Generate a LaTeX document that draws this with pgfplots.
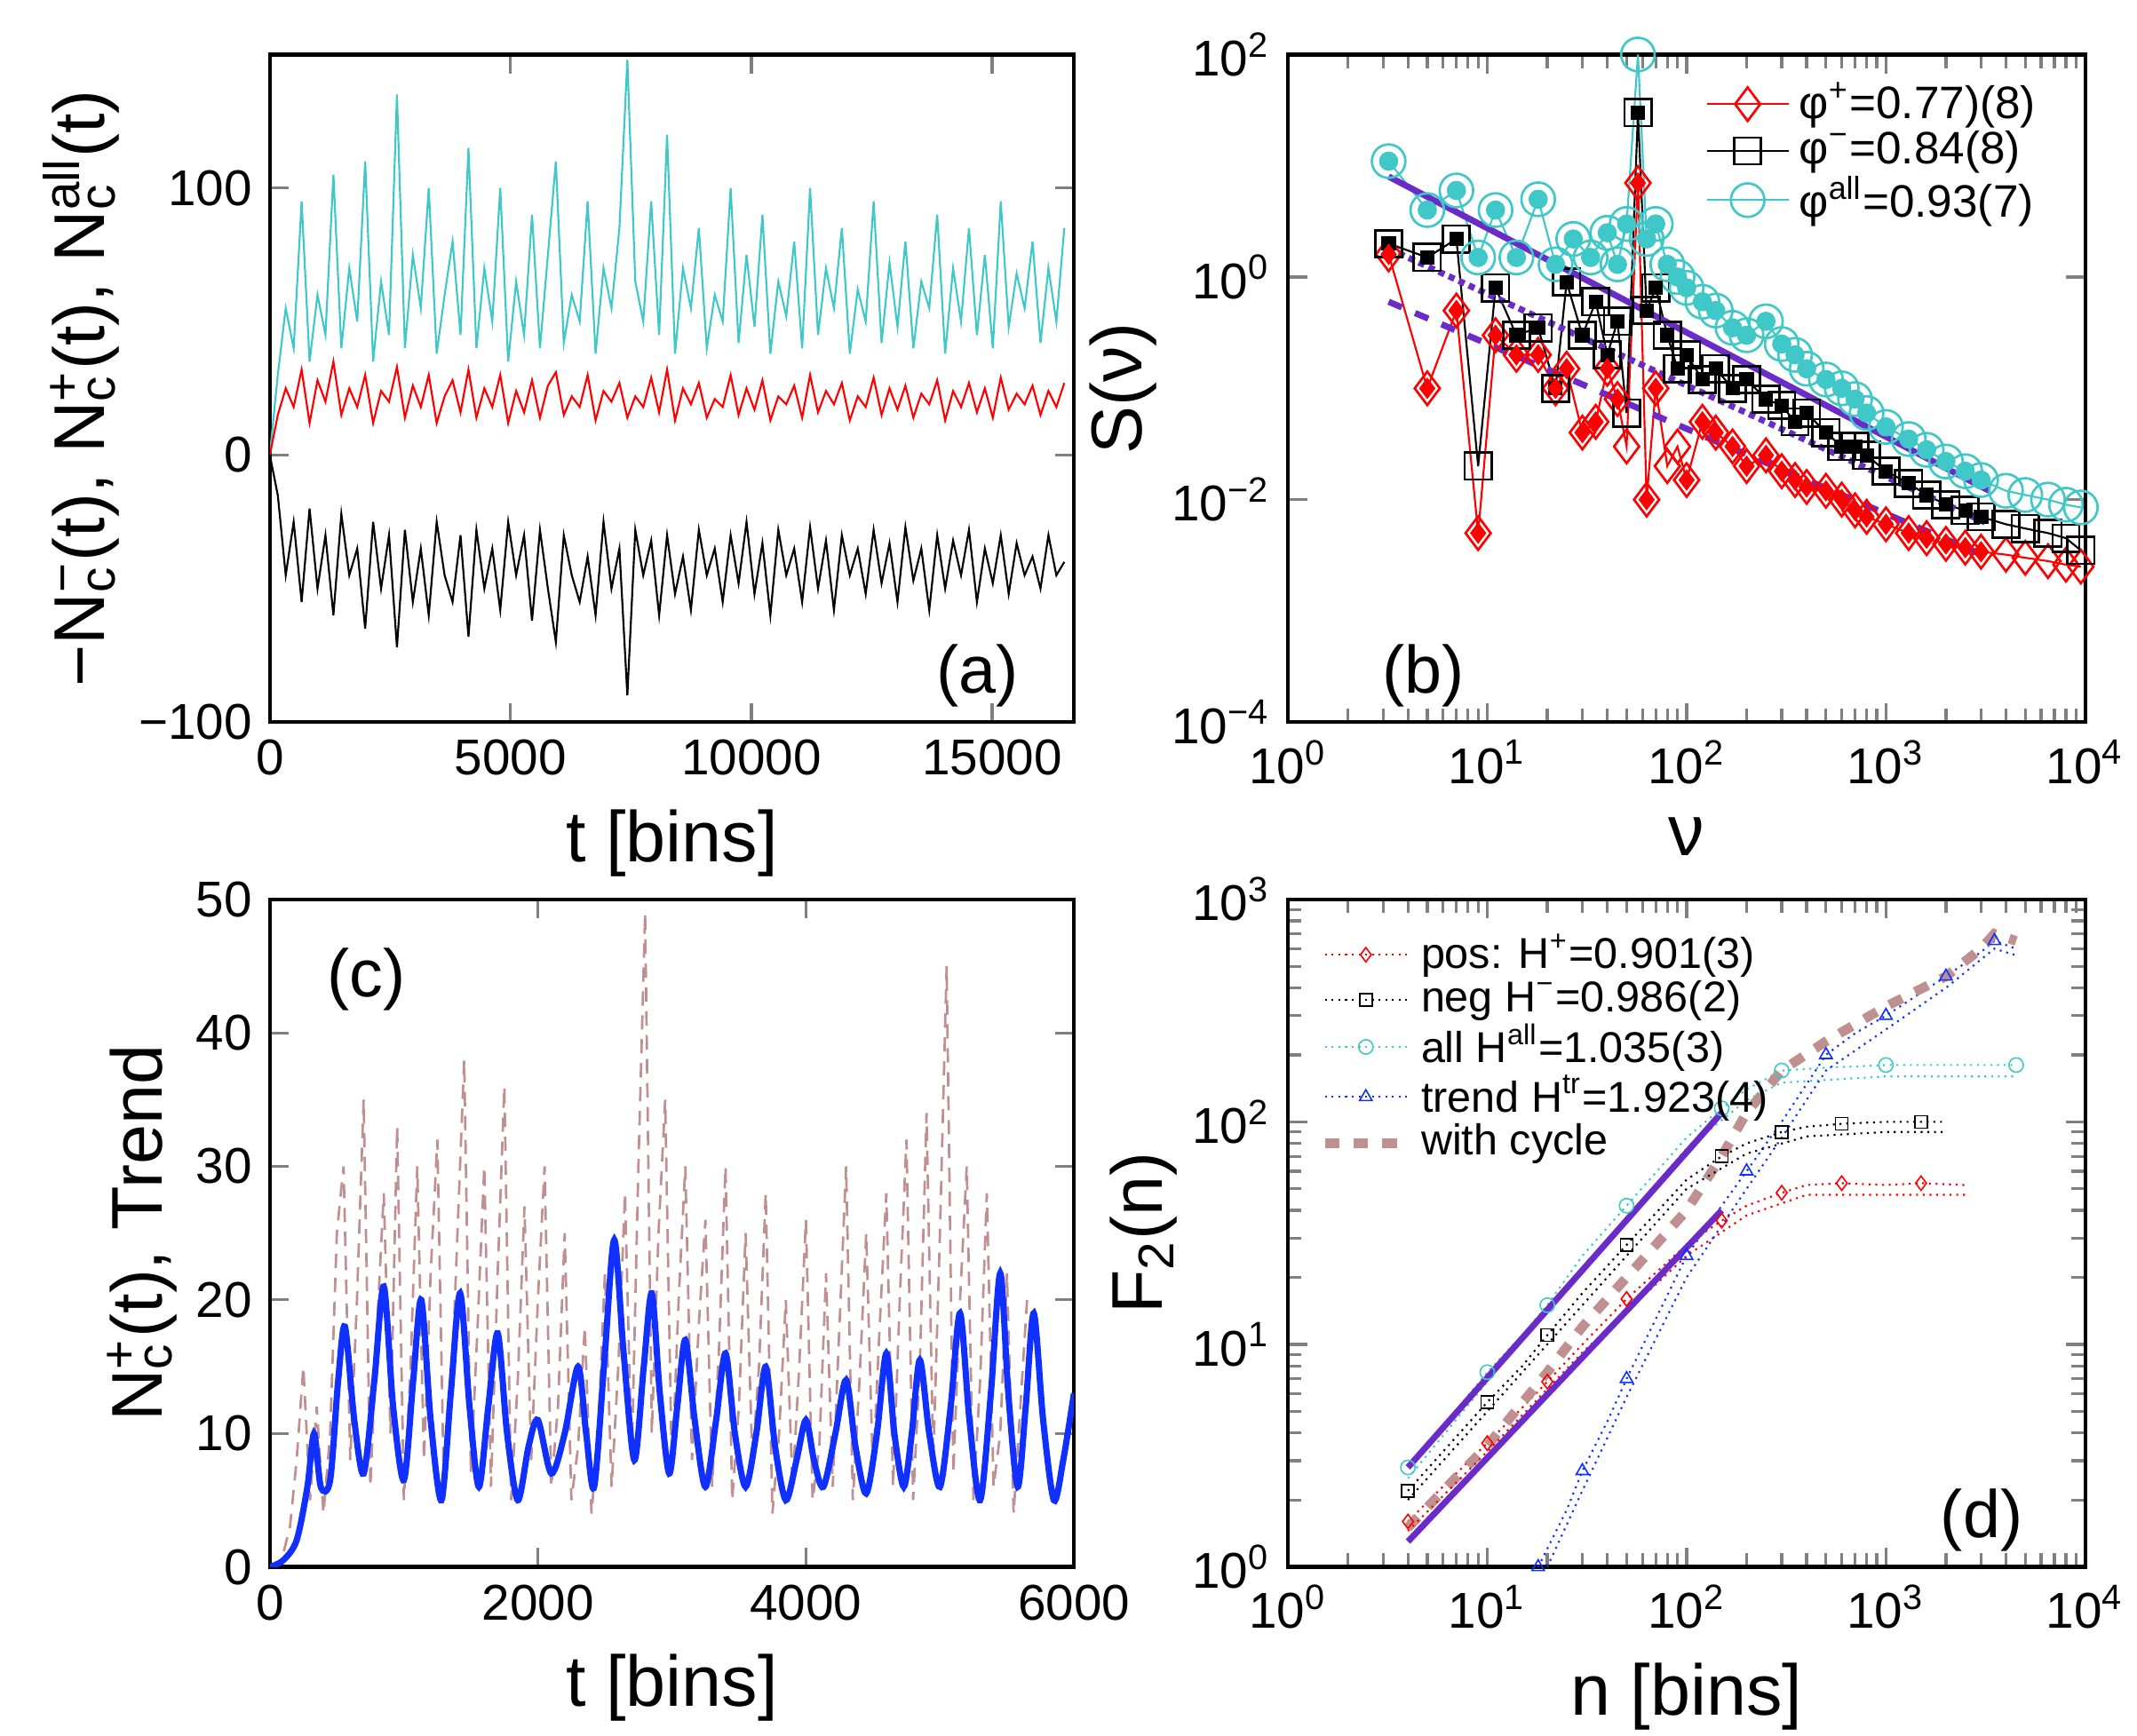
\documentclass[border=0pt]{standalone}
\usepackage{pgfplots}
\pgfplotsset{compat=1.18}
\usepackage{fontspec}
\setmainfont{Liberation Sans}
\definecolor{cy}{HTML}{40C8C8}
\definecolor{br}{HTML}{C09090}
\definecolor{pu}{HTML}{6A2BC9}
\definecolor{bl}{HTML}{1030FF}
\newcommand\expo[1]{\pgfmathparse{int(round(#1/ln(10)))}\ifnum\pgfmathresult<0 10\textsuperscript{−\the\numexpr-\pgfmathresult\relax}\else 10\textsuperscript{\pgfmathresult}\fi}
\pgfplotsset{
 every axis/.append style={scale only axis, /pgf/number format/assume math mode=true,
   tick label style={font=\fontsize{10.5}{12}\selectfont}, label style={font=\fontsize{15}{17}\selectfont},
   line width=0.8pt, tick style={line width=0.6pt}, major tick length=4pt},
 logt/.style={xticklabel={\expo{\tick}}, yticklabel={\expo{\tick}}}
}
\begin{document}
\begin{tikzpicture}
\useasboundingbox (0,0) rectangle (15.68,-12.74);
% (a)
\begin{axis}[anchor=south west, at={(1.98cm,-5.30cm)}, width=5.9cm, height=4.9cm,
 xmin=0, xmax=16700, ymin=-100, ymax=150, xtick={0,5000,10000,15000}, ytick={-100,0,100}, yticklabels={−100,0,100},
 scaled x ticks=false, xticklabel style={/pgf/number format/1000 sep={}},
 xlabel={t [bins]}, ylabel={−N\rlap{\textsubscript{c}}\textsuperscript{−}(t), N\rlap{\textsubscript{c}}\textsuperscript{+}(t), N\rlap{\textsubscript{c}}\textsuperscript{all}(t)}, ylabel style={yshift=-3pt}]
\addplot[cy, line width=0.4pt] table[x expr=\coordindex*165, y index=0]{
y
0
30
55
40
95
35
60
45
105
40
70
50
110
35
65
45
135
40
75
55
100
38
60
80
45
115
40
70
50
100
35
65
45
90
40
75
110
42
60
50
95
38
70
55
85
148
65
50
95
45
120
38
70
55
85
40
60
50
100
42
75
48
90
38
65
52
80
40
100
45
70
55
85
38
62
50
95
42
72
48
80
40
65
55
90
38
70
50
85
45
75
40
95
48
68
55
80
42
70
50
85
};
\addplot[red, line width=0.4pt] table[x expr=\coordindex*165, y index=0]{
y
0
15
25
18
32
12
28
20
35
15
25
18
30
12
24
20
33
14
26
18
30
12
22
28
16
32
14
25
18
30
12
24
16
28
14
26
31
15
22
18
30
13
24
20
27
14
22
18
29
16
32
13
25
19
27
14
21
18
30
15
25
17
28
13
22
19
26
14
30
16
24
19
27
13
22
18
29
15
25
17
26
14
23
19
28
13
24
18
27
16
25
14
29
17
23
19
26
15
24
18
27
};
\addplot[black, line width=0.4pt] table[x expr=\coordindex*165, y index=0]{
y
0
-15
-45
-25
-55
-20
-50
-30
-60
-22
-45
-35
-65
-25
-50
-30
-72
-28
-55
-35
-60
-25
-45
-55
-30
-68
-28
-50
-35
-58
-25
-45
-30
-62
-28
-50
-70
-30
-45
-55
-38
-60
-25
-50
-35
-90
-28
-45
-32
-60
-30
-52
-38
-58
-28
-45
-35
-55
-30
-48
-25
-52
-33
-60
-28
-45
-35
-55
-27
-50
-32
-58
-30
-45
-35
-52
-28
-48
-33
-55
-27
-47
-35
-58
-30
-50
-32
-45
-28
-55
-35
-48
-30
-52
-33
-45
-38
-50
-30
-45
-40
};
\node[font=\fontsize{14}{16}\selectfont] at (rel axis cs:0.88,0.07) {(a)};
\end{axis}
% (b)
\begin{axis}[anchor=south west, at={(9.45cm,-5.30cm)}, width=5.85cm, height=4.9cm,
 xmode=log, ymode=log, xmin=1, xmax=1e4, ymin=1e-4, ymax=1e2, logt,
 ytick={1e-4,1e-2,1,1e2}, xtick={1,10,100,1000,10000}, minor tick num=0,
 xlabel={ν}, ylabel={S(ν)}, ylabel style={yshift=-4pt},
 legend style={draw=none, fill=none, at={(0.97,0.99)}, anchor=north east, font=\fontsize{9.5}{11}\selectfont, row sep=-3pt},
 legend cell align=left]
\addplot[red, line width=0.4pt, mark=diamond, mark size=3.5pt, mark options={line width=0.5pt}] coordinates {(3.2,1.6)(5,0.1)(7,0.5)(9,0.005)(11,0.3)(14,0.2)(18,0.2)(22,0.1)(25,0.15)(30,0.04)(35,0.05)(40,0.15)(45,0.08)(50,0.03)(57,7)(63,0.01)(70,0.1)(80,0.02)(90,0.03)(100,0.015)(120,0.05)(140,0.04)(170,0.03)(200,0.02)(250,0.025)(300,0.018)(350,0.015)(400,0.013)(500,0.012)(600,0.01)(700,0.008)(800,0.007)(1000,0.006)(1300,0.005)(1600,0.0045)(2000,0.004)(2500,0.0037)(3000,0.0034)(4000,0.0032)(5000,0.003)(6500,0.0028)(8000,0.0026)(9500,0.0025)};
\addlegendentry{φ\textsuperscript{+}=0.77)(8)}
\addplot[black, line width=0.4pt, mark=square, mark size=2.8pt, mark options={line width=0.5pt}] coordinates {(3.2,2)(5,1.5)(7,2.2)(9,0.02)(11,0.8)(14,0.3)(18,0.35)(22,0.1)(25,0.9)(30,0.3)(35,0.6)(40,0.2)(45,0.4)(50,0.06)(57,30)(63,0.5)(70,0.8)(80,0.3)(90,0.15)(100,0.2)(120,0.12)(140,0.15)(170,0.1)(200,0.12)(250,0.08)(300,0.07)(350,0.05)(400,0.06)(500,0.04)(600,0.03)(700,0.03)(800,0.025)(1000,0.018)(1300,0.014)(1600,0.011)(2000,0.009)(2500,0.008)(3000,0.007)(4000,0.006)(5000,0.0055)(6500,0.005)(8000,0.0045)(9500,0.0035)};
\addlegendentry{φ\textsuperscript{−}=0.84(8)}
\addplot[cy, line width=0.4pt, mark=o, mark size=3.5pt, mark options={line width=0.5pt}] coordinates {(3.2,11)(5,4)(7,6)(9,1.5)(11,4)(14,1.5)(18,5)(22,1.3)(27,2.2)(33,1.5)(40,2.5)(45,1.3)(50,3)(57,100)(63,2.2)(70,3)(80,1.3)(90,1.0)(100,0.8)(120,0.6)(140,0.5)(170,0.35)(200,0.3)(250,0.4)(300,0.25)(350,0.2)(400,0.15)(500,0.12)(600,0.1)(700,0.08)(800,0.06)(1000,0.045)(1300,0.035)(1600,0.028)(2000,0.022)(2500,0.018)(3000,0.015)(4000,0.012)(5000,0.011)(6500,0.01)(8000,0.009)(9500,0.0085)};
\addlegendentry{φ\textsuperscript{all}=0.93(7)}
\addplot[only marks, cy, mark=*, mark size=1.6pt] coordinates {(3.2,11)(5,4)(7,6)(9,1.5)(11,4)(14,1.5)(18,5)(22,1.3)(27,2.2)(33,1.5)(40,2.5)(45,1.3)(50,3)(63,2.2)(70,3)(80,1.3)(90,1.0)(100,0.8)(120,0.6)(140,0.5)(170,0.35)(200,0.3)(250,0.4)(300,0.25)(350,0.2)(400,0.15)(500,0.12)(600,0.1)(700,0.08)(800,0.06)(1000,0.045)(1300,0.035)(1600,0.028)(2000,0.022)(2500,0.018)(3000,0.015)};
\addplot[only marks, black, mark=square*, mark size=1.1pt] coordinates {(3.2,2)(5,1.5)(7,2.2)(11,0.8)(14,0.3)(18,0.35)(22,0.1)(25,0.9)(30,0.3)(35,0.6)(40,0.2)(45,0.4)(57,30)(63,0.5)(70,0.8)(80,0.3)(90,0.15)(100,0.2)(120,0.12)(140,0.15)(170,0.1)(200,0.12)(250,0.08)(300,0.07)(350,0.05)(400,0.06)(500,0.04)(600,0.03)(700,0.03)(800,0.025)(1000,0.018)(1300,0.014)(1600,0.011)(2000,0.009)(2500,0.008)(3000,0.007)};
\addplot[only marks, red, mark=diamond*, mark size=1.6pt] coordinates {(3.2,1.6)(5,0.1)(7,0.5)(9,0.005)(11,0.3)(14,0.2)(18,0.2)(22,0.1)(25,0.15)(30,0.04)(35,0.05)(40,0.15)(45,0.08)(57,7)(63,0.01)(70,0.1)(100,0.015)(120,0.05)(140,0.04)(170,0.03)(200,0.02)(250,0.025)(300,0.018)(350,0.015)(400,0.013)(500,0.012)(600,0.01)(700,0.008)(800,0.007)(1000,0.006)(1300,0.005)(1600,0.0045)(2000,0.004)(2500,0.0037)(3000,0.0034)};
\addplot[pu, line width=1.3pt] coordinates {(3.2,8)(3300,0.012)};
\addplot[pu, line width=1.3pt, densely dotted] coordinates {(3.2,1.8)(3300,0.006)};
\addplot[pu, line width=1.3pt, dashed] coordinates {(3.2,0.6)(3300,0.003)};
\node[font=\fontsize{14}{16}\selectfont] at (rel axis cs:0.17,0.07) {(b)};
\end{axis}
% (c)
\begin{axis}[anchor=south west, at={(1.98cm,-11.50cm)}, width=5.9cm, height=4.9cm,
 xmin=0, xmax=6000, ymin=0, ymax=50, xtick={0,2000,4000,6000}, ytick={0,10,20,30,40,50},
 scaled x ticks=false, xticklabel style={/pgf/number format/1000 sep={}},
 xlabel={t [bins]}, ylabel={N\rlap{\textsubscript{c}}\textsuperscript{+}(t), Trend}, ylabel style={yshift=-3pt}]
\addplot[br, line width=0.5pt, densely dashed] table[x expr=\coordindex*50, y index=0]{
y
0
0
1
3
8
15
5
12
4
10
25
30
8
20
35
6
18
28
10
33
5
15
30
8
22
32
5
12
25
38
7
18
30
6
22
36
5
14
27
8
20
30
6
12
25
5
9
18
4
10
22
6
15
28
8
30
49
10
25
35
7
20
30
8
18
26
6
16
30
5
12
25
8
15
28
4
10
20
6
15
26
5
9
22
6
18
30
5
14
25
7
18
28
6
20
32
5
15
34
8
25
45
7
20
30
5
14
28
6
10
22
4
12
20
};
\addplot[bl, line width=1.3pt, smooth] coordinates {(0,0)(100,0.5)(200,2)(280,6)(330,10)(380,6)(450,6.5)(510,14)(560,18)(630,11)(700,7)(780,14)(850,21)(920,12)(1000,6.5)(1070,14)(1130,20)(1200,11)(1280,5)(1350,13)(1420,20.5)(1490,12)(1560,6)(1630,12)(1700,17.5)(1770,10)(1850,5)(1930,9)(2000,11)(2100,7)(2200,10)(2300,15)(2360,10)(2420,6)(2500,16)(2570,24.5)(2640,16)(2720,8)(2790,15)(2850,20.5)(2910,13)(2980,7)(3040,12)(3100,17)(3170,11)(3250,6)(3330,11)(3400,16)(3470,10)(3550,6)(3630,10)(3700,15)(3770,9)(3850,5)(3930,8)(4000,11)(4060,8)(4130,6)(4220,10)(4300,14)(4370,9)(4450,5.5)(4530,10)(4600,16)(4660,10)(4730,6)(4790,10)(4850,15.5)(4920,10)(5000,6)(5080,12)(5150,19)(5220,11)(5300,5)(5380,13)(5450,22)(5510,13)(5580,6)(5640,12)(5700,19)(5770,11)(5850,5)(5920,8)(6000,13)};
\node[font=\fontsize{14}{16}\selectfont] at (rel axis cs:0.12,0.88) {(c)};
\end{axis}
% (d)
\begin{axis}[anchor=south west, at={(9.45cm,-11.50cm)}, width=5.85cm, height=4.9cm,
 xmode=log, ymode=log, xmin=1, xmax=1e4, ymin=1, ymax=1e3, logt, minor tick num=0,
 xtick={1,10,100,1000,10000}, ytick={1,10,100,1000},
 xlabel={n [bins]}, ylabel={F\textsubscript{2}(n)}, ylabel style={yshift=-4pt},
 legend style={draw=none, fill=none, at={(0.02,0.98)}, anchor=north west, font=\fontsize{9}{10}\selectfont, row sep=-3pt},
 legend cell align=left]
\addplot[red, line width=0.4pt, densely dotted, mark=diamond, mark size=1.5pt, mark repeat=2, mark options={solid,line width=0.3pt}] coordinates {(4,1.6)(6,2.3)(10,3.6)(15,5.2)(20,6.8)(30,10)(50,16)(100,28)(150,36)(200,42)(300,48)(400,52)(600,53)(1000,52)(1500,53)(2500,52)};
\addlegendentry{pos: H\textsuperscript{+}=0.901(3)}
\addplot[black, line width=0.4pt, densely dotted, mark=square, mark size=1.3pt, mark repeat=2, mark options={solid,line width=0.3pt}] coordinates {(4,2.2)(6,3.3)(10,5.5)(15,8)(20,11)(30,17)(50,28)(100,55)(150,70)(200,80)(300,90)(400,95)(600,98)(1000,100)(1500,100)(2000,100)};
\addlegendentry{neg H\textsuperscript{−}=0.986(2)}
\addplot[cy, line width=0.4pt, densely dotted, mark=o, mark size=1.5pt, mark repeat=2, mark options={solid,line width=0.3pt}] coordinates {(4,2.8)(6,4.3)(10,7.5)(15,11)(20,15)(30,25)(50,42)(100,85)(150,115)(200,140)(300,170)(500,175)(1000,180)(2000,180)(4500,180)};
\addlegendentry{all H\textsuperscript{all}=1.035(3)}
\addplot[bl, line width=0.4pt, densely dotted, mark=triangle, mark size=1.5pt, mark repeat=2, mark options={solid,line width=0.3pt}] coordinates {(18,1)(25,1.8)(30,2.7)(40,4.5)(50,7)(70,13)(100,25)(150,42)(200,60)(300,100)(500,200)(700,250)(1000,300)(1500,380)(2000,450)(3000,580)(3500,650)(4500,600)};
\addlegendentry{trend H\textsuperscript{tr}=1.923(4)}
\addplot[br, line width=2pt, dashed] coordinates {(4,1.5)(6,2.2)(10,3.5)(20,7.5)(30,12)(50,20)(100,40)(150,70)(200,110)(300,170)(500,230)(1000,330)(2000,450)(3000,600)(3500,700)(4500,650)};
\addlegendentry{with cycle}
\addplot[red, line width=0.4pt, densely dotted] coordinates {(4,1.45)(10,3.3)(30,9.2)(100,25)(200,38)(400,47)(1000,47)(2500,47)};
\addplot[black, line width=0.4pt, densely dotted] coordinates {(4,2)(10,5)(30,15)(100,50)(200,72)(400,86)(1000,90)(2000,90)};
\addplot[cy, line width=0.4pt, densely dotted] coordinates {(4,2.5)(10,6.8)(30,22)(100,76)(200,125)(300,150)(1000,160)(4500,160)};
\addplot[bl, line width=0.4pt, densely dotted] coordinates {(20,1)(30,2.2)(50,5.8)(100,20)(200,50)(300,85)(500,170)(1000,260)(2000,400)(3500,600)(4500,560)};
\addplot[pu, line width=1.3pt] coordinates {(4,2.8)(150,110)};
\addplot[pu, line width=1.3pt] coordinates {(4,1.3)(150,40)};
\node[font=\fontsize{14}{16}\selectfont] at (rel axis cs:0.87,0.07) {(d)};
\end{axis}
\end{tikzpicture}
\end{document}
